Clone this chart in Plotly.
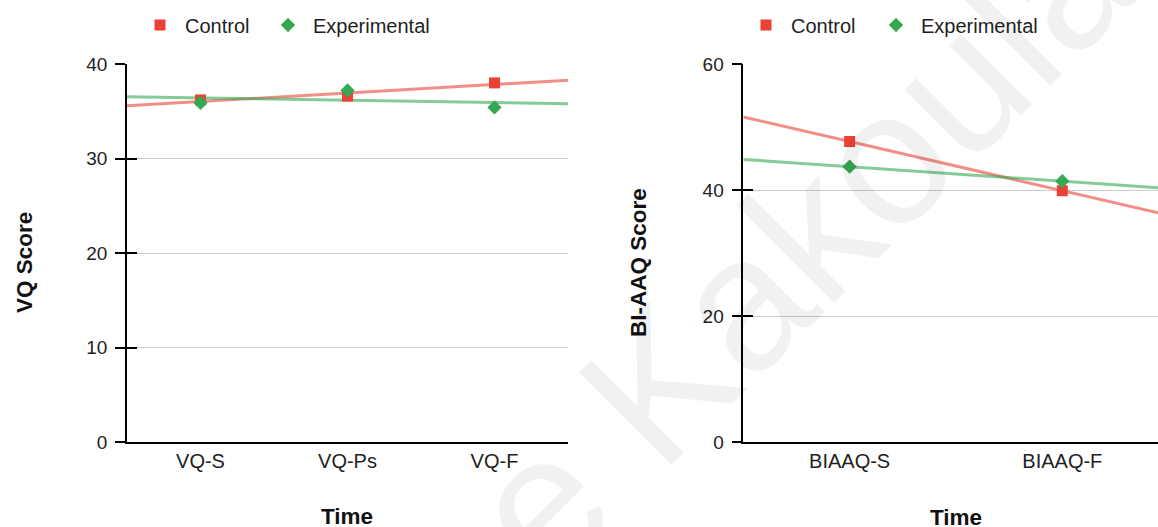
import numpy as np
import plotly.graph_objects as go

# ---------------- data ----------------
vq_categories = ["VQ-S", "VQ-Ps", "VQ-F"]
vq_control = [36.2, 36.6, 38.0]
vq_experimental = [35.9, 37.2, 35.4]

bi_categories = ["BIAAQ-S", "BIAAQ-F"]
bi_control = [47.7, 39.9]
bi_experimental = [43.7, 41.4]

vq_yticks = [0, 10, 20, 30, 40]
bi_yticks = [0, 20, 40, 60]

series_names = ["Control", "Experimental"]
# --------------------------------------

W, H = 1158, 527
ML, MR, MT, MB = 0, 0, 64, 85
PH = H - MT - MB


def px(x):
    return x / W


def py(y):
    return (H - MB - y) / PH


RED = "#ea4335"
GREEN = "#34a853"
RED_T = "rgba(234,67,53,0.6)"
GREEN_T = "rgba(52,168,83,0.6)"
FONT = "Arial, Liberation Sans, sans-serif"

fig = go.Figure()


def trend(vals, x0, x1):
    idx = np.arange(len(vals))
    k, b = np.polyfit(idx, vals, 1)
    xs = np.array([x0, x1])
    return xs, k * xs + b


# left chart trendlines (base axes)
for vals, col in [(vq_control, RED_T), (vq_experimental, GREEN_T)]:
    xs, ys = trend(vals, -0.5, 2.5)
    fig.add_trace(go.Scatter(x=xs, y=ys, mode="lines", line=dict(color=col, width=3),
                             showlegend=False, hoverinfo="skip", xaxis="x", yaxis="y"))
# right chart trendlines
for vals, col in [(bi_control, RED_T), (bi_experimental, GREEN_T)]:
    xs, ys = trend(vals, -0.5, 1.5)
    fig.add_trace(go.Scatter(x=xs, y=ys, mode="lines", line=dict(color=col, width=3),
                             showlegend=False, hoverinfo="skip", xaxis="x2", yaxis="y2"))

# markers (overlay axes, drawn on top)
fig.add_trace(go.Scatter(x=list(range(len(vq_categories))), y=vq_control, mode="markers",
                         name=series_names[0], marker=dict(symbol="square", size=11, color=RED),
                         xaxis="x", yaxis="y3", legend="legend"))
fig.add_trace(go.Scatter(x=list(range(len(vq_categories))), y=vq_experimental, mode="markers",
                         name=series_names[1], marker=dict(symbol="diamond", size=11, color=GREEN),
                         xaxis="x", yaxis="y3", legend="legend2"))
fig.add_trace(go.Scatter(x=list(range(len(bi_categories))), y=bi_control, mode="markers",
                         name=series_names[0], marker=dict(symbol="square", size=11, color=RED),
                         xaxis="x2", yaxis="y4", legend="legend3"))
fig.add_trace(go.Scatter(x=list(range(len(bi_categories))), y=bi_experimental, mode="markers",
                         name=series_names[1], marker=dict(symbol="diamond", size=11, color=GREEN),
                         xaxis="x2", yaxis="y4", legend="legend4"))

tickfont = dict(family=FONT, size=20, color="#222222")
ytickfont = dict(family=FONT, size=19, color="#222222")

xaxis_common = dict(showgrid=False, zeroline=False, showline=True, linecolor="black", linewidth=1.5,
                    ticks="", tickfont=tickfont, automargin=False, fixedrange=True)
yaxis_common = dict(showgrid=True, gridcolor="#cccccc", gridwidth=1, zeroline=False,
                    showline=True, linecolor="black", linewidth=1.5,
                    ticks="outside", ticklen=10, tickcolor="black", tickwidth=1.5,
                    ticklabelstandoff=4,
                    tickfont=ytickfont, automargin=False, fixedrange=True)
yaxis_overlay = dict(showgrid=False, zeroline=False, showline=False,
                     ticks="inside", ticklen=10, tickcolor="black", tickwidth=1.5,
                     showticklabels=False, automargin=False, fixedrange=True)

legend_font = dict(family=FONT, size=20, color="#222222")


def leg(xpix):
    return dict(orientation="h", x=px(xpix), y=py(25), xanchor="left", yanchor="middle",
                itemwidth=40, font=legend_font, bgcolor="rgba(0,0,0,0)")


fig.update_layout(
    width=W, height=H,
    margin=dict(l=ML, r=MR, t=MT, b=MB),
    paper_bgcolor="white", plot_bgcolor="rgba(0,0,0,0)",
    template="none",
    font=dict(family=FONT, color="#222222"),
    xaxis=dict(domain=[px(127), px(568)], range=[-0.5, 2.5], anchor="y",
               tickvals=list(range(len(vq_categories))), ticktext=vq_categories, **xaxis_common),
    yaxis=dict(range=[0, 40], tickvals=vq_yticks, anchor="x", **yaxis_common),
    yaxis3=dict(range=[0, 40], tickvals=vq_yticks, anchor="x", overlaying="y", **yaxis_overlay),
    xaxis2=dict(domain=[px(743.3), 1.0], range=[-0.5, 1.45], anchor="y2",
                tickvals=list(range(len(bi_categories))), ticktext=bi_categories, **xaxis_common),
    yaxis2=dict(range=[0, 60], tickvals=bi_yticks, anchor="x2", **yaxis_common),
    yaxis4=dict(range=[0, 60], tickvals=bi_yticks, anchor="x2", overlaying="y2", **yaxis_overlay),
    legend=leg(135),
    legend2=leg(263),
    legend3=leg(741),
    legend4=leg(871),
    showlegend=True,
)

title_font = dict(family=FONT, size=22.5, color="#111111")
annotations = [
    dict(text="<b>VQ Score</b>", x=px(24), y=py(263), textangle=-90),
    dict(text="<b>BI-AAQ Score</b>", x=px(638), y=py(263), textangle=-90),
    dict(text="<b>Time</b>", x=px(346.5), y=py(516), textangle=0),
    dict(text="<b>Time</b>", x=px(956), y=py(517), textangle=0),
]
for a in annotations:
    fig.add_annotation(xref="paper", yref="paper", xanchor="center", yanchor="middle",
                       showarrow=False, font=title_font, **a)

# watermark
fig.add_annotation(text="e Kakoulas", xref="paper", yref="paper", x=px(834), y=py(209),
                   xanchor="center", yanchor="middle", showarrow=False, textangle=-45,
                   font=dict(family=FONT, size=190, color="rgba(0,0,0,0.055)"))

fig.write_html("out.html", config={"displayModeBar": False},
               post_script="document.body.style.margin='0';document.body.style.padding='0';")
